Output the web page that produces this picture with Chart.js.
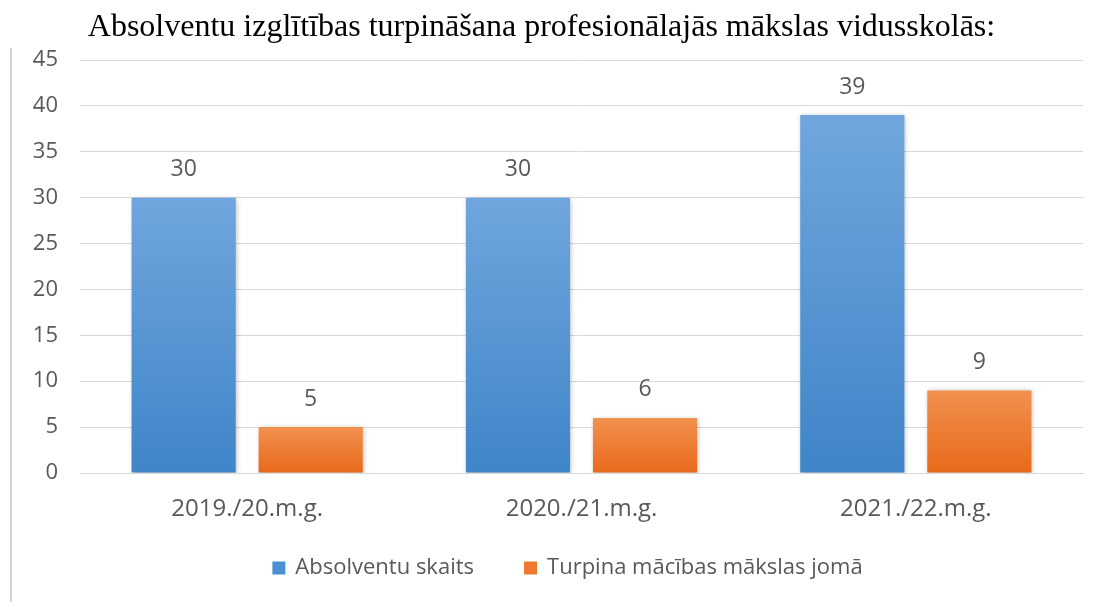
<!DOCTYPE html>
<html>
<head>
<meta charset="utf-8">
<script src="https://cdn.jsdelivr.net/npm/chart.js@4/dist/chart.umd.min.js"></script>
<style>
  html, body { margin: 0; padding: 0; background: #fff; }
  #wrap { position: relative; width: 1103px; height: 602px; }
  #edge { position: absolute; left: 10px; top: 48px; width: 2px; height: 554px; background: #d4d4d4; }
</style>
</head>
<body>
<div id="wrap">
  <div id="edge"></div>
  <canvas id="chart" width="1103" height="602"></canvas>
</div>
<script>
const chartTitle = "Absolventu izglītības turpināšana profesionālajās mākslas vidusskolās:";
const years = ["2019./20.m.g.", "2020./21.m.g.", "2021./22.m.g."];
const graduates = [30, 30, 39];
const artStudies = [5, 6, 9];
const seriesNames = ["Absolventu skaits", "Turpina mācības mākslas jomā"];

const textColor = "#595959";
const sansFont = "'Open Sans', sans-serif";
const legendSwatch = ["#4a8fd2", "#ee7a2e"];

function barGradient(topColor, bottomColor) {
  return (context) => {
    const chart = context.chart;
    if (!chart.chartArea || context.type !== "data") return bottomColor;
    const y = chart.scales.y;
    const top = y.getPixelForValue(context.raw);
    const bottom = y.getPixelForValue(0);
    const grad = chart.ctx.createLinearGradient(0, top, 0, bottom);
    grad.addColorStop(0, topColor);
    grad.addColorStop(1, bottomColor);
    return grad;
  };
}

// value labels above bars
const valueLabels = {
  id: "valueLabels",
  afterDatasetsDraw(chart) {
    const ctx = chart.ctx;
    ctx.save();
    ctx.fillStyle = textColor;
    ctx.font = "23px " + sansFont;
    ctx.textAlign = "center";
    ctx.textBaseline = "middle";
    chart.data.datasets.forEach((ds, i) => {
      chart.getDatasetMeta(i).data.forEach((bar, j) => {
        ctx.fillText(String(ds.data[j]), bar.x, bar.y - 28);
      });
    });
    ctx.restore();
  },
};

// soft shadow under bars
const barShadow = {
  id: "barShadow",
  beforeDatasetsDraw(chart) {
    const ctx = chart.ctx;
    ctx.save();
    ctx.shadowColor = "rgba(0,0,0,0.28)";
    ctx.shadowBlur = 5;
    ctx.shadowOffsetX = 1;
    ctx.shadowOffsetY = 1;
  },
  afterDatasetsDraw(chart) {
    chart.ctx.restore();
  },
};

// legend under the axis
const bottomLegend = {
  id: "bottomLegend",
  afterDraw(chart) {
    const ctx = chart.ctx;
    const box = 13;
    const gap = 50;
    ctx.save();
    ctx.font = "22px " + sansFont;
    ctx.textBaseline = "middle";
    const widths = seriesNames.map((t) => box + 10 + ctx.measureText(t).width);
    const total = widths[0] + gap + widths[1];
    let x = chart.width / 2 + 16 - total / 2;
    const y = chart.chartArea.bottom + 95;
    seriesNames.forEach((name, i) => {
      ctx.fillStyle = legendSwatch[i];
      ctx.fillRect(x, y - box / 2, box, box);
      ctx.fillStyle = textColor;
      ctx.fillText(name, x + box + 10, y);
      x += widths[i] + gap;
    });
    ctx.restore();
  },
};

new Chart(document.getElementById("chart"), {
  type: "bar",
  data: {
    labels: years,
    datasets: [
      {
        label: seriesNames[0],
        data: graduates,
        backgroundColor: barGradient("#70a6dd", "#3f85c8"),
        borderWidth: 0,
      },
      {
        label: seriesNames[1],
        data: artStudies,
        backgroundColor: barGradient("#f1914f", "#e8691a"),
        borderWidth: 0,
      },
    ],
  },
  options: {
    responsive: false,
    animation: false,
    devicePixelRatio: 1,
    categoryPercentage: 0.76,
    barPercentage: 0.82,
    layout: { padding: { left: 0, right: 20, top: 0, bottom: 0 } },
    plugins: {
      title: {
        display: true,
        text: chartTitle,
        color: "#000",
        font: { family: "'Liberation Serif', 'Times New Roman', serif", size: 32, weight: "normal" },
        padding: { top: 8, bottom: 13.6 },
      },
      legend: { display: false },
      tooltip: { enabled: false },
    },
    scales: {
      x: {
        grid: { display: false, drawTicks: false },
        border: { color: "#d9d9d9", width: 1 },
        ticks: { color: textColor, font: { family: sansFont, size: 24 }, padding: 22 },
        afterFit(scale) { scale.height = 129; },
      },
      y: {
        min: 0,
        max: 45,
        ticks: { stepSize: 5, color: textColor, font: { family: sansFont, size: 22 }, padding: 22 },
        grid: { color: "#d9d9d9", drawTicks: false },
        border: { display: false },
        afterFit(scale) { scale.width = 80; },
      },
    },
  },
  plugins: [barShadow, valueLabels, bottomLegend],
});
</script>
</body>
</html>
